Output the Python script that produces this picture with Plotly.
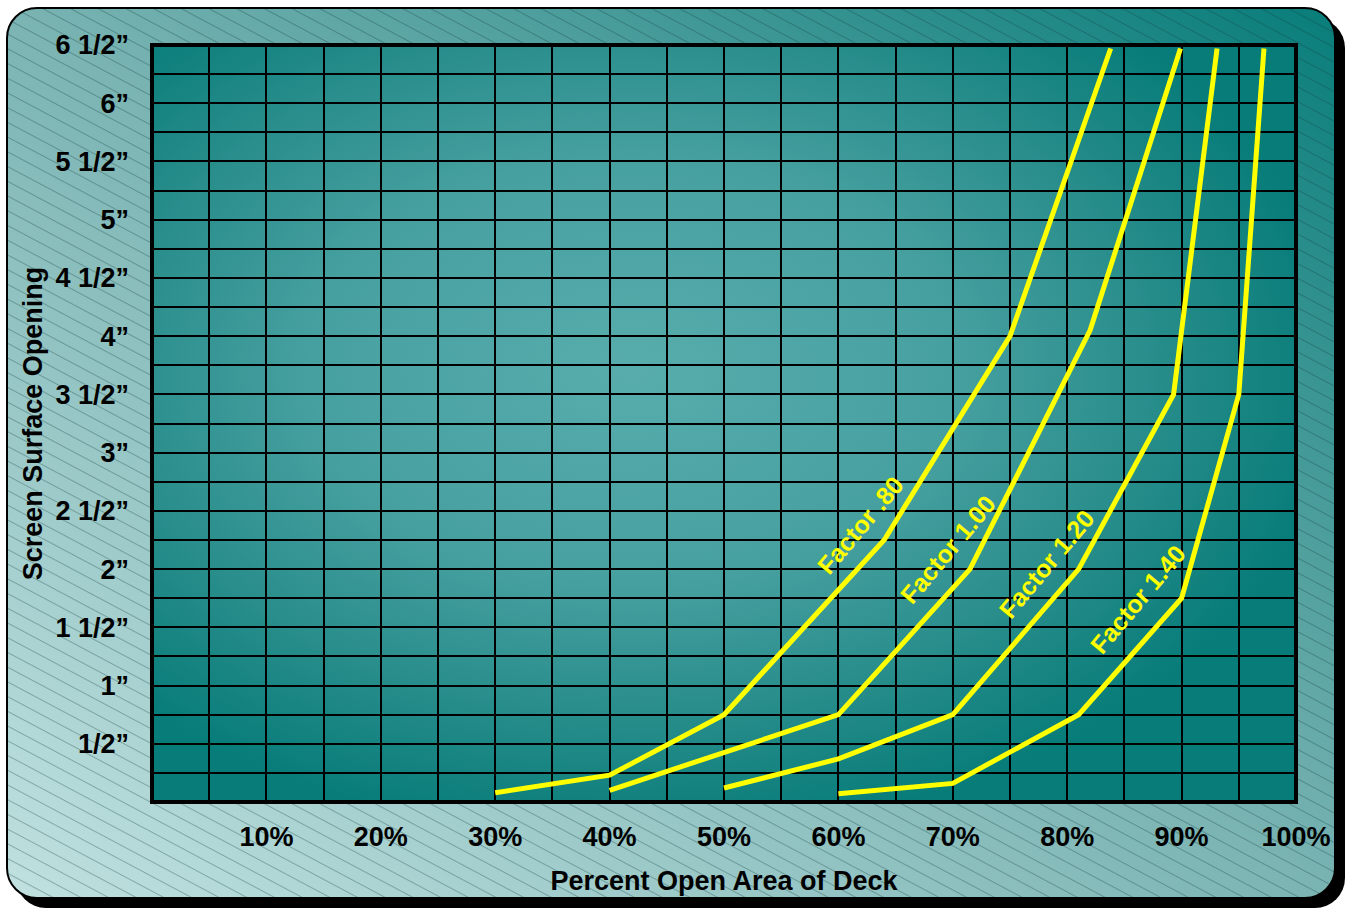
import base64
import plotly.graph_objects as go

# ---- data -------------------------------------------------------------
# Percent open area of deck (x) vs screen surface opening in inches (y)
factor_080_x = [30, 40, 50, 64, 75, 83.8]
factor_080_y = [0.08, 0.23, 0.75, 2.25, 4.0, 6.47]

factor_100_x = [40, 60, 71.5, 82, 89.9]
factor_100_y = [0.10, 0.75, 2.0, 4.05, 6.47]

factor_120_x = [50, 60, 70, 81, 89.3, 93.1]
factor_120_y = [0.12, 0.37, 0.75, 2.0, 3.5, 6.47]

factor_140_x = [60, 70, 81, 90, 95, 97.2]
factor_140_y = [0.07, 0.16, 0.75, 1.75, 3.5, 6.47]

series_names = ["Factor .80", "Factor 1.00", "Factor 1.20", "Factor 1.40"]
label_x = [61.9, 69.6, 78.2, 86.2]
label_y = [2.38, 2.17, 2.04, 1.74]

x_tick_vals = [10, 20, 30, 40, 50, 60, 70, 80, 90, 100]
x_tick_text = ["10%", "20%", "30%", "40%", "50%", "60%", "70%", "80%", "90%", "100%"]

y_tick_vals = [0.5, 1, 1.5, 2, 2.5, 3, 3.5, 4, 4.5, 5, 5.5, 6, 6.5]
y_tick_text = ["1/2\u201d", "1\u201d", "1 1/2\u201d", "2\u201d", "2 1/2\u201d", "3\u201d",
               "3 1/2\u201d", "4\u201d", "4 1/2\u201d", "5\u201d", "5 1/2\u201d",
               "6\u201d", "6 1/2\u201d"]

# ---- page geometry ----------------------------------------------------
W, H = 1347, 910
ML, MR, MT, MB = 152, 51, 45, 108
PW, PH = W - ML - MR, H - MT - MB

NARROW = "Liberation Sans Narrow, Arial Narrow, Liberation Sans, Arial, sans-serif"
PLAIN = "Liberation Sans, Arial, sans-serif"


def svg_uri(svg):
    return "data:image/svg+xml;base64," + base64.b64encode(svg.encode("utf-8")).decode("ascii")


# rounded card with drop shadow, diagonal gradient and fine hatching
card_svg = f"""<svg xmlns="http://www.w3.org/2000/svg" width="{W}" height="{H}" viewBox="0 0 {W} {H}" preserveAspectRatio="none">
<defs>
 <linearGradient id="bg" x1="0" y1="1" x2="1" y2="0">
  <stop offset="0" stop-color="#c0e1e0"/>
  <stop offset="0.5" stop-color="#7ab4b3"/>
  <stop offset="1" stop-color="#087d7a"/>
 </linearGradient>
 <pattern id="hatch" patternUnits="userSpaceOnUse" width="40" height="13" patternTransform="rotate(28)">
  <line x1="0" y1="0.5" x2="40" y2="0.5" stroke="rgba(20,60,60,0.32)" stroke-width="1"/>
 </pattern>
</defs>
<rect x="16" y="18" width="1329" height="890" rx="30" ry="30" fill="#000"/>
<rect x="7" y="8" width="1328" height="890" rx="30" ry="30" fill="url(#bg)"/>
<rect x="7" y="8" width="1328" height="890" rx="30" ry="30" fill="url(#hatch)" stroke="#000" stroke-width="2"/>
</svg>"""

# soft radial glow for the plotting area
plot_svg = """<svg xmlns="http://www.w3.org/2000/svg" width="100" height="100" viewBox="0 0 100 100" preserveAspectRatio="none">
<defs>
 <radialGradient id="glow" cx="0.42" cy="0.43" r="0.62" fx="0.42" fy="0.43">
  <stop offset="0" stop-color="#58acac"/>
  <stop offset="0.45" stop-color="#47a0a0"/>
  <stop offset="0.75" stop-color="#268c8a"/>
  <stop offset="1" stop-color="#077c79"/>
 </radialGradient>
</defs>
<rect x="0" y="0" width="100" height="100" fill="url(#glow)"/>
</svg>"""

fig = go.Figure()

series = [
    (factor_080_x, factor_080_y),
    (factor_100_x, factor_100_y),
    (factor_120_x, factor_120_y),
    (factor_140_x, factor_140_y),
]
for name, (xs, ys) in zip(series_names, series):
    fig.add_trace(go.Scatter(
        x=xs, y=ys, mode="lines", name=name,
        line=dict(color="#ffff00", width=5),
        showlegend=False, hoverinfo="skip",
    ))

for name, lx, ly in zip(series_names, label_x, label_y):
    fig.add_annotation(
        x=lx, y=ly, xref="x", yref="y", text=name, showarrow=False,
        textangle=-50,
        font=dict(family=PLAIN, size=25, color="#ffff00", weight="bold"),
    )

fig.update_layout(
    width=W, height=H,
    margin=dict(l=ML, r=MR, t=MT, b=MB, autoexpand=False),
    paper_bgcolor="#ffffff",
    plot_bgcolor="rgba(0,0,0,0)",
    images=[
        dict(source=svg_uri(card_svg), xref="paper", yref="paper",
             x=-ML / PW, y=1 + MT / PH, sizex=W / PW, sizey=H / PH,
             xanchor="left", yanchor="top", sizing="stretch", layer="below"),
        dict(source=svg_uri(plot_svg), xref="x", yref="y",
             x=0, y=6.5, sizex=100, sizey=6.5,
             xanchor="left", yanchor="top", sizing="stretch", layer="below"),
    ],
    shapes=[
        dict(type="rect", xref="paper", yref="paper", x0=0, y0=0, x1=1, y1=1,
             line=dict(color="#000000", width=4), layer="above"),
    ],
)

fig.update_xaxes(
    range=[0, 100], tickvals=x_tick_vals, ticktext=x_tick_text,
    showgrid=True, gridcolor="#000000", gridwidth=1.5, zeroline=False,
    showline=False, ticks="", ticklabelstandoff=16,
    tickfont=dict(family=NARROW, size=27, color="#000000", weight="bold"),
    minor=dict(dtick=5, tick0=0, showgrid=True, gridcolor="#000000", gridwidth=1.5),
    title=dict(text="Percent Open Area of Deck", standoff=20,
               font=dict(family=NARROW, size=27, color="#000000", weight="bold")),
    fixedrange=True,
)
fig.update_yaxes(
    range=[0, 6.5], tickvals=y_tick_vals, ticktext=y_tick_text,
    showgrid=True, gridcolor="#000000", gridwidth=1.5, zeroline=False,
    showline=False, ticks="", ticklabelstandoff=22,
    tickfont=dict(family=NARROW, size=27, color="#000000", weight="bold"),
    minor=dict(dtick=0.25, tick0=0, showgrid=True, gridcolor="#000000", gridwidth=1.5),
    title=dict(text="Screen Surface Opening", standoff=4,
               font=dict(family=NARROW, size=27, color="#000000", weight="bold")),
    fixedrange=True,
)

fig.write_html("out.html")
